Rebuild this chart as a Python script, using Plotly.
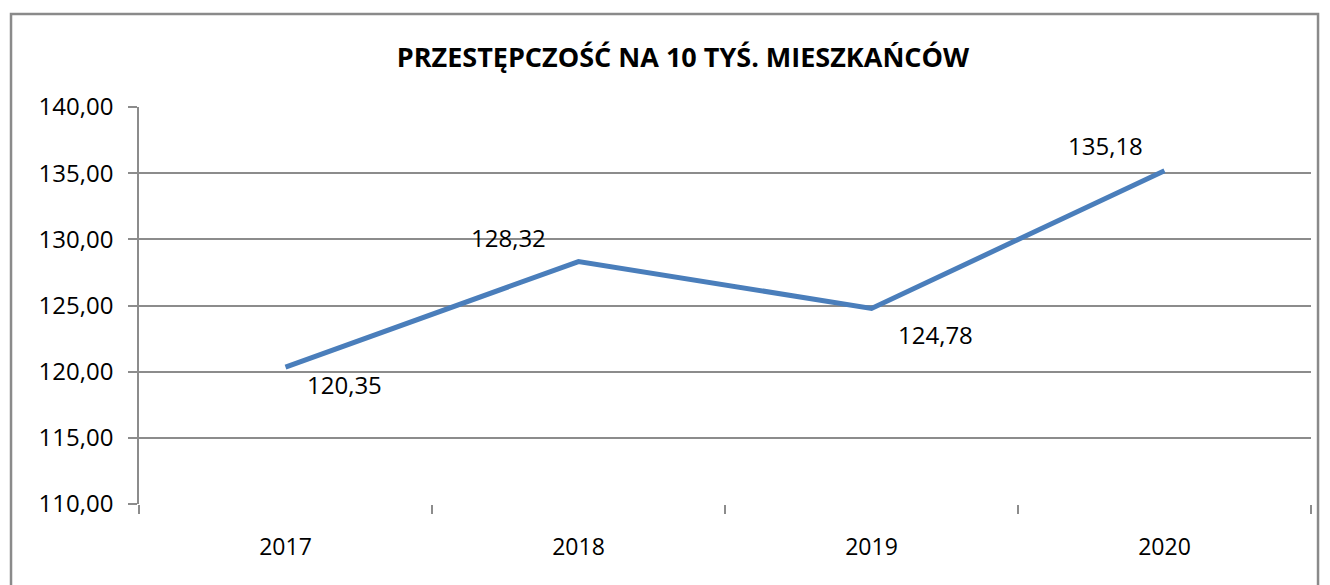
import plotly.graph_objects as go

years = ['2017', '2018', '2019', '2020']
values = [120.35, 128.32, 124.78, 135.18]
labels = ['120,35', '128,32', '124,78', '135,18']
y_ticks = [110, 115, 120, 125, 130, 135, 140]
y_tick_text = ['110,00', '115,00', '120,00', '125,00', '130,00', '135,00', '140,00']

# label offsets (px) relative to each point
label_shift = [(59, -17), (-70, 24), (64, -26), (-59, 25)]

grid = '#8c8c8c'
font = 'Open Sans, Liberation Sans, sans-serif'

fig = go.Figure()
fig.add_trace(go.Scatter(
    x=years, y=values, mode='lines',
    line=dict(color='#4a7ebb', width=5),
    hoverinfo='skip', showlegend=False,
))

for i, (v, txt, (dx, dy)) in enumerate(zip(values, labels, label_shift)):
    fig.add_annotation(x=i, y=v, text=txt, showarrow=False,
                       xshift=dx, yshift=dy,
                       font=dict(family=font, size=24, color='black'))

fig.add_shape(type='rect', xref='paper', yref='paper',
              x0=-0.1092, x1=1.0060, y0=-0.25, y1=1.2343,
              line=dict(color='#8a8a8a', width=2.5), layer='below')

fig.update_layout(
    width=1330, height=585,
    margin=dict(l=131, r=27, t=99, b=89),
    paper_bgcolor='white', plot_bgcolor='white',
    title=dict(text='<b>PRZESTĘPCZOŚĆ NA 10 TYŚ. MIESZKAŃCÓW</b>',
               x=0.5075, xanchor='center', y=0.916, yanchor='middle',
               font=dict(family=font, size=27, color='black')),
    font=dict(family=font, size=24, color='black'),
    xaxis=dict(type='category', range=[-0.5, 3.5], showgrid=False,
               showline=False, automargin=False,
               ticks='outside', tickson='boundaries', ticklen=9,
               tickcolor=grid, tickwidth=1.5, zeroline=False, tickangle=0,
               tickfont=dict(size=23), ticklabelstandoff=27),
    yaxis=dict(range=[110, 140], tickvals=y_ticks, ticktext=y_tick_text,
               showgrid=True, gridcolor=grid, gridwidth=1.5, automargin=False,
               showline=True, linecolor=grid, linewidth=1.5,
               ticks='outside', ticklen=9, tickcolor=grid, tickwidth=1.5,
               zeroline=False, tickfont=dict(size=24), ticklabelstandoff=10),
)

fig.write_html('out.html')
